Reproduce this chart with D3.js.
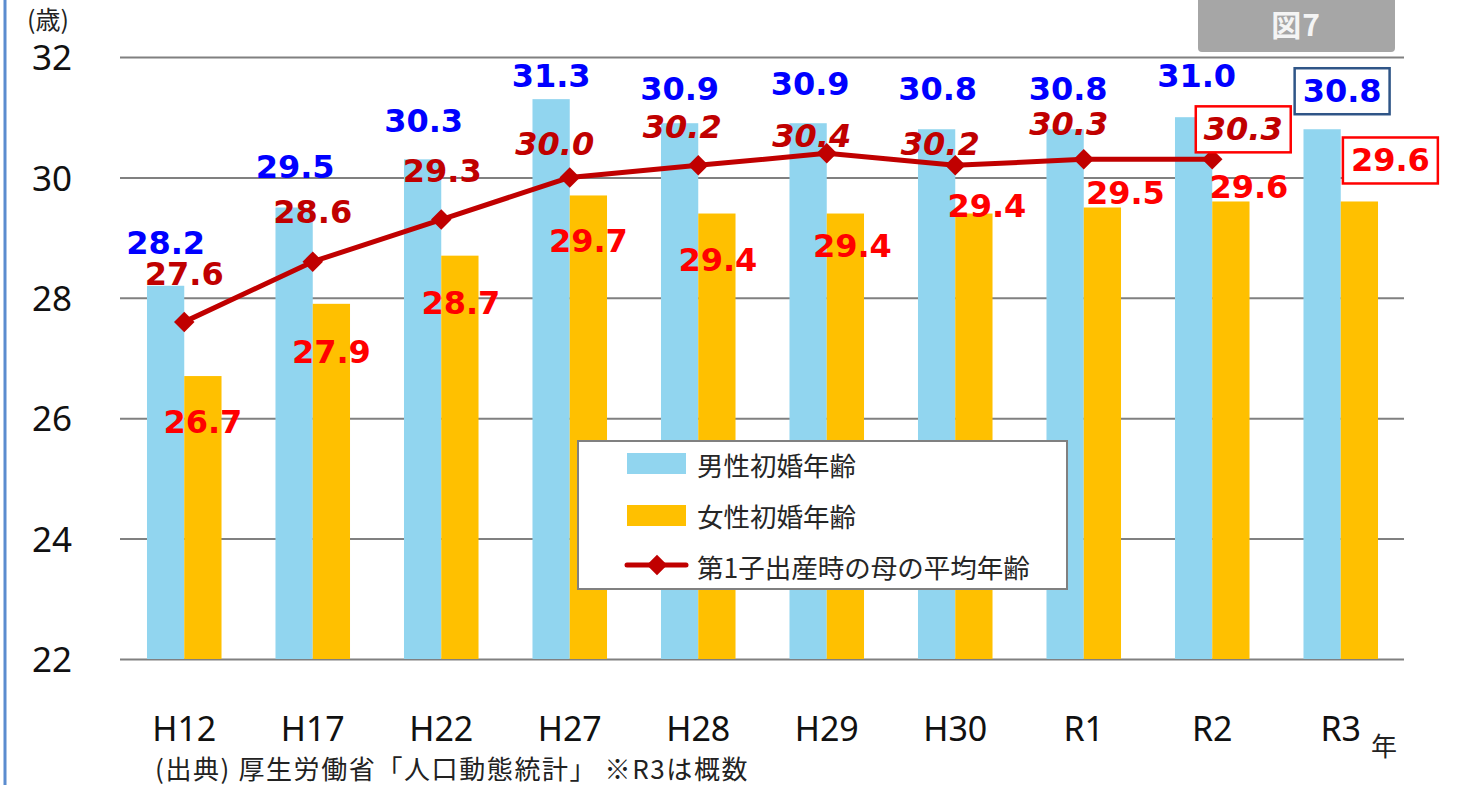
<!DOCTYPE html>
<html>
<head>
<meta charset="utf-8">
<script src="https://cdn.jsdelivr.net/npm/d3@7"></script>
<style>
  body { margin: 0; background: #fff; }
  .tick line { stroke: #808080; stroke-width: 2; }
  .axis text { font-family: 'Noto Sans', sans-serif; fill: #111; }
</style>
</head>
<body>
<script>
'use strict';
// data
var categories = ['H12', 'H17', 'H22', 'H27', 'H28', 'H29', 'H30', 'R1', 'R2', 'R3'];
var maleAge = [28.2, 29.5, 30.3, 31.3, 30.9, 30.9, 30.8, 30.8, 31.0, 30.8];
var femaleAge = [26.7, 27.9, 28.7, 29.7, 29.4, 29.4, 29.4, 29.5, 29.6, 29.6];
var motherAge = [27.6, 28.6, 29.3, 30.0, 30.2, 30.4, 30.2, 30.3, 30.3];
var yTicks = [22, 24, 26, 28, 30, 32];
var seriesNames = ['男性初婚年齢', '女性初婚年齢', '第1子出産時の母の平均年齢'];

// label nudges (px), hand placed in the original
var maleDx = [0, 1, 1, 0, 0, 2, 1, 3, 3, 20];
var maleDy = [-32, -30, -27, -12, -23, -28, -29, -29, -30, -27];
var femDx = [0, 0, 1, 0, 1, 7, 13, 23, 18, 31];
var femDy = [57, 59, 58, 57, 57, 43, 3, -4, -3, -30];
var lineDx = [0, 0, 1, -15, -16, -15, -15, -15, 31];
var lineDy = [-37, -39, -38, -22, -27, -6, -10, -24, -19];

(function() {
  var W = 1462, H = 785;
  var plotLeft = 120, plotRight = 1405, plotTop = 57, plotBottom = 659;
  var maleColor = '#91d5ef', femColor = '#ffc000', lineColor = '#c00000';
  var labelFont = "'DejaVu Sans', sans-serif";
  var labelSize = '32px';
  var cjk = "'Noto Sans CJK JP', sans-serif";

  var svg = d3.select('body').append('svg')
    .attr('width', W)
    .attr('height', H);

  // left page edge
  svg.append('line')
    .attr('x1', 5).attr('x2', 5).attr('y1', 0).attr('y2', H)
    .style('stroke', '#5b8ccf').style('stroke-width', 3);

  var x = d3.scaleBand()
    .domain(categories)
    .range([plotLeft, plotRight])
    .paddingInner(0.42)
    .paddingOuter(0.21);

  var xSub = d3.scaleBand()
    .domain(['male', 'female'])
    .range([0, x.bandwidth()]);

  var y = d3.scaleLinear()
    .domain([22, 32])
    .range([plotBottom, plotTop]);

  // y axis + grid
  var yAxis = svg.append('g')
    .attr('class', 'axis')
    .attr('transform', 'translate(' + plotLeft + ',0)')
    .call(d3.axisLeft(y).tickValues(yTicks).tickSize(-(plotRight - plotLeft - 1)).tickPadding(48));
  yAxis.select('.domain').remove();
  yAxis.selectAll('text')
    .style('font-size', '35px')
    .attr('dy', '0.36em');

  // x axis labels
  var xAxis = svg.append('g')
    .attr('class', 'axis')
    .attr('transform', 'translate(0,' + plotBottom + ')')
    .call(d3.axisBottom(x).tickSize(0));
  xAxis.select('.domain').remove();
  xAxis.selectAll('text')
    .style('font-size', '34px')
    .attr('dy', null)
    .attr('y', 82);

  // bars
  svg.selectAll('.male')
    .data(maleAge)
    .enter().append('rect')
    .attr('class', 'male')
    .attr('x', function(d, i) { return x(categories[i]) + xSub('male'); })
    .attr('width', xSub.bandwidth())
    .attr('y', function(d) { return y(d); })
    .attr('height', function(d) { return plotBottom - y(d); })
    .style('fill', maleColor);

  svg.selectAll('.female')
    .data(femaleAge)
    .enter().append('rect')
    .attr('class', 'female')
    .attr('x', function(d, i) { return x(categories[i]) + xSub('female'); })
    .attr('width', xSub.bandwidth())
    .attr('y', function(d) { return y(d); })
    .attr('height', function(d) { return plotBottom - y(d); })
    .style('fill', femColor);

  // mother line
  var cx = function(i) { return x(categories[i]) + x.bandwidth() / 2; };
  var line = d3.line()
    .x(function(d, i) { return cx(i); })
    .y(function(d) { return y(d); });

  svg.append('path')
    .datum(motherAge)
    .attr('d', line)
    .style('fill', 'none')
    .style('stroke', lineColor)
    .style('stroke-width', 5)
    .style('stroke-linejoin', 'round');

  var diamond = d3.symbol().type(d3.symbolSquare).size(210);
  svg.selectAll('.pt')
    .data(motherAge)
    .enter().append('path')
    .attr('class', 'pt')
    .attr('d', diamond)
    .attr('transform', function(d, i) { return 'translate(' + cx(i) + ',' + y(d) + ') rotate(45)'; })
    .style('fill', lineColor);

  // boxes behind labels
  function boxAround(node, stroke) {
    var b = node.getBBox();
    svg.insert('rect', function() { return node; })
      .attr('x', b.x - 8).attr('y', b.y - 4)
      .attr('width', b.width + 16).attr('height', b.height + 8)
      .style('fill', '#fff')
      .style('stroke', stroke)
      .style('stroke-width', 2.5);
  }

  // value labels
  var maleLabels = svg.selectAll('.mlab')
    .data(maleAge)
    .enter().append('text')
    .attr('class', 'mlab')
    .attr('x', function(d, i) { return x(categories[i]) + xSub('male') + xSub.bandwidth() / 2 + maleDx[i]; })
    .attr('y', function(d, i) { return y(d) + maleDy[i]; })
    .attr('text-anchor', 'middle')
    .style('font-family', labelFont)
    .style('font-weight', 'bold')
    .style('font-size', labelSize)
    .style('fill', '#0000ff')
    .text(function(d) { return d.toFixed(1); });

  var femLabels = svg.selectAll('.flab')
    .data(femaleAge)
    .enter().append('text')
    .attr('class', 'flab')
    .attr('x', function(d, i) { return x(categories[i]) + xSub('female') + xSub.bandwidth() / 2 + femDx[i]; })
    .attr('y', function(d, i) { return y(d) + femDy[i]; })
    .attr('text-anchor', 'middle')
    .style('font-family', labelFont)
    .style('font-weight', 'bold')
    .style('font-size', labelSize)
    .style('fill', '#ff0000')
    .text(function(d) { return d.toFixed(1); });

  var lineLabels = svg.selectAll('.llab')
    .data(motherAge)
    .enter().append('text')
    .attr('class', 'llab')
    .attr('x', function(d, i) { return cx(i) + lineDx[i]; })
    .attr('y', function(d, i) { return y(d) + lineDy[i]; })
    .attr('text-anchor', 'middle')
    .style('font-family', labelFont)
    .style('font-weight', 'bold')
    .style('font-style', function(d, i) { return i >= 3 ? 'italic' : 'normal'; })
    .style('font-size', labelSize)
    .style('fill', lineColor)
    .text(function(d) { return d.toFixed(1); });

  boxAround(maleLabels.nodes()[9], '#2f5587');
  boxAround(femLabels.nodes()[9], '#ff0000');
  boxAround(lineLabels.nodes()[8], '#ff0000');

  // legend
  var lg = svg.append('g').attr('transform', 'translate(578,441)');
  lg.append('rect')
    .attr('width', 489).attr('height', 148)
    .style('fill', '#fff')
    .style('stroke', '#808080')
    .style('stroke-width', 2);
  [maleColor, femColor].forEach(function(c, i) {
    lg.append('rect')
      .attr('x', 49).attr('y', 12 + i * 52)
      .attr('width', 59).attr('height', 21)
      .style('fill', c);
  });
  lg.append('line')
    .attr('x1', 49).attr('x2', 108).attr('y1', 124).attr('y2', 124)
    .style('stroke', lineColor).style('stroke-width', 5).style('stroke-linecap', 'round');
  lg.append('path')
    .attr('d', diamond)
    .attr('transform', 'translate(79,124) rotate(45)')
    .style('fill', lineColor);
  lg.selectAll('.ltxt')
    .data(seriesNames)
    .enter().append('text')
    .attr('class', 'ltxt')
    .attr('x', 119)
    .attr('y', function(d, i) { return 35 + i * 51; })
    .style('font-family', cjk)
    .style('font-size', '26.5px')
    .style('fill', '#262626')
    .text(function(d) { return d; });

  // 図7 tag
  svg.append('rect')
    .attr('x', 1198).attr('y', -6).attr('width', 197).attr('height', 58)
    .attr('rx', 4)
    .style('fill', '#a6a6a6');
  svg.append('text')
    .attr('x', 1296).attr('y', 36)
    .attr('text-anchor', 'middle')
    .style('font-family', cjk)
    .style('font-weight', 'bold')
    .style('font-size', '30px')
    .style('letter-spacing', '1px')
    .style('fill', '#f4f4f4')
    .text('図7');

  // unit and notes
  svg.append('text')
    .attr('x', 27).attr('y', 29)
    .style('font-family', cjk).style('font-size', '25px').style('fill', '#222')
    .text('(歳)');
  svg.append('text')
    .attr('x', 1371).attr('y', 756)
    .style('font-family', cjk).style('font-size', '26px').style('fill', '#222')
    .text('年');
  svg.append('text')
    .attr('x', 155).attr('y', 779)
    .style('font-family', cjk).style('font-size', '26px').style('fill', '#222')
    .style('letter-spacing', '1.6px')
    .text('(出典) 厚生労働省「人口動態統計」 ※R3は概数');
})();
</script>
</body>
</html>
